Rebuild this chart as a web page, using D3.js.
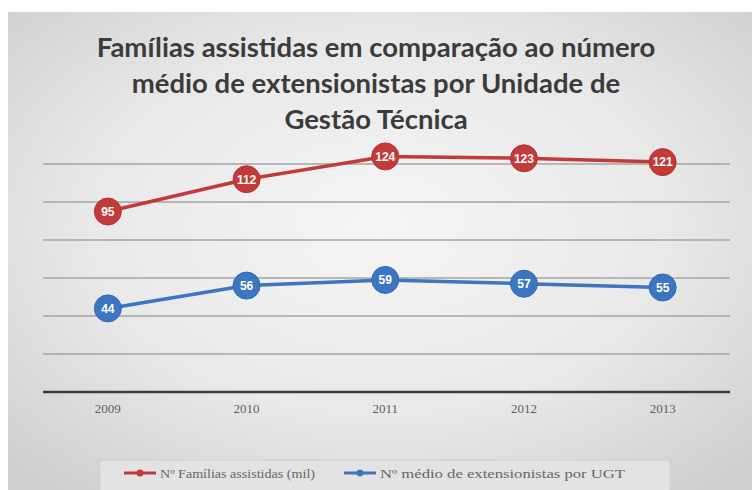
<!DOCTYPE html>
<html>
<head>
<meta charset="utf-8">
<script src="https://cdn.jsdelivr.net/npm/d3@7"></script>
<style>
  body { margin: 0; background: #fff; }
</style>
</head>
<body>
<div id="chart"></div>
<script>
var years = ["2009", "2010", "2011", "2012", "2013"];
var familias = [95, 112, 124, 123, 121];
var extensionistas = [44, 56, 59, 57, 55];
var seriesNames = ["Nº Famílias assistidas (mil)", "Nº médio de extensionistas por UGT"];
var seriesColors = ["#c33a38", "#3a76c2"];
var gridTicks = [0, 20, 40, 60, 80, 100, 120];
var titleLines = ["Famílias assistidas em comparação ao número",
                  "médio de extensionistas por Unidade de",
                  "Gestão Técnica"];

var width = 752, height = 490;

var svg = d3.select("#chart").append("svg")
    .attr("width", width)
    .attr("height", height);

/* background gradient */
var defs = svg.append("defs");
var grad = defs.append("radialGradient")
    .attr("id", "bg")
    .attr("cx", "50%").attr("cy", "45%").attr("r", "70%");
grad.append("stop").attr("offset", "0%").attr("stop-color", "#f5f5f5");
grad.append("stop").attr("offset", "55%").attr("stop-color", "#e9e9e9");
grad.append("stop").attr("offset", "100%").attr("stop-color", "#cfcfcf");

svg.append("rect")
    .attr("x", 8).attr("y", 12)
    .attr("width", width - 8).attr("height", height - 12)
    .style("fill", "url(#bg)");

/* title */
svg.append("g").selectAll("text")
    .data(titleLines).enter()
    .append("text")
    .attr("x", 376)
    .attr("y", (d, i) => 57 + i * 36)
    .attr("text-anchor", "middle")
    .style("font-family", "Lato, 'Open Sans', sans-serif")
    .style("font-weight", "bold")
    .style("font-size", "27.5px")
    .style("fill", "#3b3b3b")
    .text(d => d);

/* scales */
var xScale = d3.scaleBand()
    .domain(years)
    .range([38.5, 732]);

var yScale = d3.scaleLinear()
    .domain([0, 120])
    .range([392, 164]);

/* grid */
svg.append("g").selectAll("line")
    .data(gridTicks.slice(1)).enter()
    .append("line")
    .attr("x1", 43).attr("x2", 730)
    .attr("y1", d => yScale(d)).attr("y2", d => yScale(d))
    .style("stroke", "#a4a4a4")
    .style("stroke-width", 1.3);

/* x axis */
var xAxis = d3.axisBottom(xScale).tickSize(0).tickPadding(12);
var gx = svg.append("g")
    .attr("transform", `translate(0, ${yScale(0)})`)
    .call(xAxis);
gx.select(".domain").remove();
gx.append("line")
    .attr("x1", 43).attr("x2", 730)
    .style("stroke", "#3c3c3c")
    .style("stroke-width", 2.5);
gx.selectAll("text")
    .style("font-family", "'Liberation Serif', 'DejaVu Serif', serif")
    .style("font-size", "13px")
    .style("fill", "#5e5e5e");

/* lines */
var series = [familias, extensionistas];
var line = d3.line()
    .x((d, i) => xScale(years[i]) + xScale.bandwidth() / 2)
    .y(d => yScale(d));

var groups = svg.append("g").selectAll(".series")
    .data(series).enter()
    .append("g")
    .attr("class", "series");

groups.append("path")
    .attr("d", d => line(d))
    .style("fill", "none")
    .style("stroke", (d, i) => seriesColors[i])
    .style("stroke-width", 3.5)
    .style("stroke-linejoin", "round");

groups.each(function(d, si) {
    var g = d3.select(this);
    var p = g.selectAll(".pt")
        .data(d).enter()
        .append("g")
        .attr("class", "pt")
        .attr("transform", (v, i) => `translate(${xScale(years[i]) + xScale.bandwidth() / 2}, ${yScale(v)})`);
    p.append("circle")
        .attr("r", 13.5)
        .style("fill", seriesColors[si])
        .style("stroke", d3.color(seriesColors[si]).darker(0.3))
        .style("stroke-width", 1);
    p.append("text")
        .attr("text-anchor", "middle")
        .attr("dy", "0.36em")
        .style("font-family", "'Liberation Sans Narrow', 'Liberation Sans', sans-serif")
        .style("font-weight", "bold")
        .style("font-size", "12px")
        .style("fill", "#fff")
        .text(v => v);
});

/* legend */
var legend = svg.append("g");
legend.append("rect")
    .attr("x", 100).attr("y", 460)
    .attr("width", 570).attr("height", 34)
    .style("fill", "#e3e3e3")
    .style("stroke", "#d0d0d0");

var legendX = [124, 344];
var legendTextW = [155, 245];
var items = legend.selectAll(".item")
    .data(seriesNames).enter()
    .append("g")
    .attr("class", "item")
    .attr("transform", (d, i) => `translate(${legendX[i]}, 473)`);
items.append("line")
    .attr("x1", 0).attr("x2", 32)
    .style("stroke", (d, i) => seriesColors[i])
    .style("stroke-width", 3);
items.append("circle")
    .attr("cx", 16).attr("r", 3.5)
    .style("fill", (d, i) => seriesColors[i]);
items.append("text")
    .attr("x", 36)
    .attr("dy", "0.35em")
    .attr("textLength", (d, i) => legendTextW[i])
    .attr("lengthAdjust", "spacingAndGlyphs")
    .style("font-family", "'Liberation Serif', 'DejaVu Serif', serif")
    .style("font-size", "13px")
    .style("fill", "#666")
    .text(d => d);
</script>
</body>
</html>
